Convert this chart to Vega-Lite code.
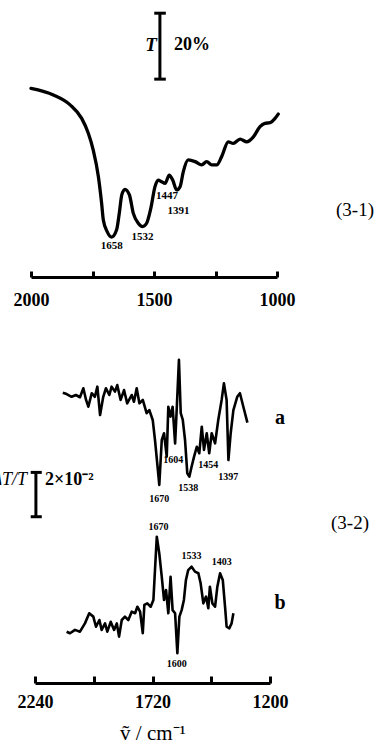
{
  "$schema": "https://vega.github.io/schema/vega-lite/v6.json",
  "width": 381,
  "height": 753,
  "autosize": {"type": "none"},
  "padding": 0,
  "background": "white",
  "config": {"view": {"stroke": null}, "font": "Liberation Serif"},
  "datasets": {
    "top": [
      {"w":2000,"v":57.2},{"w":1909,"v":55.2},{"w":1841,"v":52.2},{"w":1794,"v":48.1},{"w":1767,"v":43.6},
      {"w":1747,"v":38.5},{"w":1726,"v":30.4},{"w":1713,"v":22.4},{"w":1706,"v":17.3},{"w":1690,"v":13.7},
      {"w":1672,"v":12.1},{"w":1652,"v":14.3},{"w":1641,"v":19.4},{"w":1631,"v":24.9},{"w":1618,"v":26.6},
      {"w":1600,"v":24.9},{"w":1584,"v":19.3},{"w":1564,"v":16.3},{"w":1546,"v":15.3},{"w":1530,"v":16.3},
      {"w":1513,"v":20.8},{"w":1496,"v":27.4},{"w":1483,"v":29.4},{"w":1469,"v":28.9},{"w":1455,"v":28.4},
      {"w":1438,"v":30.9},{"w":1424,"v":29.4},{"w":1408,"v":26.4},{"w":1394,"v":27.4},{"w":1381,"v":31.9},
      {"w":1361,"v":35.5},{"w":1333,"v":35.0},{"w":1306,"v":34.0},{"w":1286,"v":35.0},{"w":1265,"v":34.0},
      {"w":1245,"v":34.0},{"w":1225,"v":36.5},{"w":1198,"v":41.0},{"w":1178,"v":40.5},{"w":1150,"v":41.8},
      {"w":1123,"v":41.0},{"w":1096,"v":42.5},{"w":1069,"v":45.6},{"w":1049,"v":46.6},{"w":1028,"v":46.8},
      {"w":1008,"v":48.1},{"w":995,"v":49.4}
    ],
    "bottom": [
      {"s":"a","w":2117,"v":129.0},{"s":"a","w":2100,"v":128.4},{"s":"a","w":2078,"v":127.2},{"s":"a","w":2059,"v":128.0},
      {"s":"a","w":2041,"v":127.0},{"s":"a","w":2026,"v":131.0},{"s":"a","w":2014,"v":125.8},{"s":"a","w":2004,"v":122.8},
      {"s":"a","w":1989,"v":128.8},{"s":"a","w":1975,"v":127.2},{"s":"a","w":1964,"v":131.7},{"s":"a","w":1952,"v":119.1},
      {"s":"a","w":1938,"v":127.2},{"s":"a","w":1926,"v":131.0},{"s":"a","w":1911,"v":128.0},{"s":"a","w":1901,"v":131.7},
      {"s":"a","w":1886,"v":129.5},{"s":"a","w":1876,"v":132.4},{"s":"a","w":1861,"v":125.8},{"s":"a","w":1846,"v":130.2},
      {"s":"a","w":1832,"v":124.3},{"s":"a","w":1812,"v":128.0},{"s":"a","w":1802,"v":125.0},{"s":"a","w":1790,"v":131.0},
      {"s":"a","w":1778,"v":124.3},{"s":"a","w":1763,"v":125.8},{"s":"a","w":1746,"v":119.9},{"s":"a","w":1734,"v":121.3},
      {"s":"a","w":1719,"v":116.9},{"s":"a","w":1709,"v":108.0},{"s":"a","w":1699,"v":97.6},{"s":"a","w":1690,"v":88.0},
      {"s":"a","w":1679,"v":108.0},{"s":"a","w":1669,"v":111.0},{"s":"a","w":1657,"v":100.6},{"s":"a","w":1650,"v":122.8},
      {"s":"a","w":1640,"v":118.4},{"s":"a","w":1631,"v":122.8},{"s":"a","w":1620,"v":106.5},{"s":"a","w":1613,"v":121.3},
      {"s":"a","w":1603,"v":143.6},{"s":"a","w":1595,"v":119.9},{"s":"a","w":1586,"v":116.9},{"s":"a","w":1576,"v":108.0},
      {"s":"a","w":1566,"v":93.2},{"s":"a","w":1557,"v":91.7},{"s":"a","w":1547,"v":96.1},{"s":"a","w":1536,"v":100.6},
      {"s":"a","w":1524,"v":105.0},{"s":"a","w":1513,"v":102.1},{"s":"a","w":1502,"v":113.9},{"s":"a","w":1492,"v":103.6},
      {"s":"a","w":1480,"v":111.0},{"s":"a","w":1469,"v":102.1},{"s":"a","w":1458,"v":111.0},{"s":"a","w":1443,"v":106.5},
      {"s":"a","w":1429,"v":116.9},{"s":"a","w":1414,"v":125.8},{"s":"a","w":1404,"v":133.2},{"s":"a","w":1392,"v":125.8},
      {"s":"a","w":1384,"v":99.1},{"s":"a","w":1374,"v":111.0},{"s":"a","w":1362,"v":121.3},{"s":"a","w":1345,"v":127.2},
      {"s":"a","w":1333,"v":128.8},{"s":"a","w":1318,"v":122.8},{"s":"a","w":1300,"v":115.7},
      {"s":"b","w":2100,"v":22.8},{"s":"b","w":2085,"v":22.1},{"s":"b","w":2063,"v":23.6},{"s":"b","w":2041,"v":22.8},
      {"s":"b","w":2019,"v":26.5},{"s":"b","w":2000,"v":31.0},{"s":"b","w":1982,"v":29.5},{"s":"b","w":1970,"v":25.0},
      {"s":"b","w":1955,"v":28.0},{"s":"b","w":1945,"v":23.6},{"s":"b","w":1930,"v":26.5},{"s":"b","w":1920,"v":22.8},
      {"s":"b","w":1905,"v":27.2},{"s":"b","w":1890,"v":23.6},{"s":"b","w":1878,"v":26.5},{"s":"b","w":1868,"v":20.6},
      {"s":"b","w":1856,"v":28.0},{"s":"b","w":1842,"v":29.5},{"s":"b","w":1827,"v":28.0},{"s":"b","w":1812,"v":31.7},
      {"s":"b","w":1797,"v":31.0},{"s":"b","w":1787,"v":33.9},{"s":"b","w":1775,"v":31.7},{"s":"b","w":1763,"v":22.1},
      {"s":"b","w":1756,"v":34.7},{"s":"b","w":1743,"v":35.4},{"s":"b","w":1728,"v":33.9},{"s":"b","w":1716,"v":36.9},
      {"s":"b","w":1709,"v":50.2},{"s":"b","w":1701,"v":65.0},{"s":"b","w":1690,"v":57.6},{"s":"b","w":1679,"v":47.2},
      {"s":"b","w":1669,"v":36.9},{"s":"b","w":1660,"v":41.3},{"s":"b","w":1650,"v":31.0},{"s":"b","w":1640,"v":47.2},
      {"s":"b","w":1631,"v":32.4},{"s":"b","w":1620,"v":31.0},{"s":"b","w":1610,"v":13.2},{"s":"b","w":1601,"v":29.5},
      {"s":"b","w":1591,"v":32.4},{"s":"b","w":1581,"v":36.9},{"s":"b","w":1572,"v":45.8},{"s":"b","w":1562,"v":50.2},
      {"s":"b","w":1547,"v":51.7},{"s":"b","w":1532,"v":49.5},{"s":"b","w":1517,"v":48.8},{"s":"b","w":1507,"v":44.3},
      {"s":"b","w":1495,"v":35.4},{"s":"b","w":1483,"v":38.4},{"s":"b","w":1473,"v":33.2},{"s":"b","w":1466,"v":42.8},
      {"s":"b","w":1455,"v":35.4},{"s":"b","w":1443,"v":33.9},{"s":"b","w":1433,"v":42.8},{"s":"b","w":1421,"v":48.8},
      {"s":"b","w":1409,"v":45.8},{"s":"b","w":1399,"v":33.9},{"s":"b","w":1392,"v":25.0},{"s":"b","w":1380,"v":24.3},
      {"s":"b","w":1370,"v":26.5},{"s":"b","w":1362,"v":31.0}
    ]
  },
  "layer": [
    {
      "encoding": {
        "x": {"field": "w", "type": "quantitative",
          "scale": {"domain": [2000, 1000], "range": [31, 277], "nice": false, "zero": false},
          "axis": {"orient": "bottom", "offset": -476, "values": [2000, 1750, 1500, 1250, 1000],
            "labelExpr": "datum.value % 500 == 0 ? datum.label : ''", "format": "d", "title": null, "grid": false,
            "domainColor": "black", "domainWidth": 3, "tickColor": "black", "tickWidth": 3, "tickSize": -6,
            "labelPadding": 20, "labelFont": "Liberation Serif", "labelFontSize": 18, "labelFontWeight": "bold",
            "labelColor": "black", "labelFlush": false, "labelOverlap": false}},
        "y": {"field": "v", "type": "quantitative",
          "scale": {"domain": [0, 84], "range": [277, 0], "nice": false, "zero": false}, "axis": null}
      },
      "layer": [
        {"data": {"name": "top"}, "mark": {"type": "line", "color": "black", "strokeWidth": 3.3, "interpolate": "monotone", "strokeJoin": "round", "strokeCap": "round"}},
        {"data": {"values": [{"w":1672,"v":9.4,"t":"1658"},{"w":1547,"v":12.1,"t":"1532"},{"w":1447,"v":24.6,"t":"1447"},{"w":1400,"v":20.0,"t":"1391"}]},
          "mark": {"type": "text", "font": "Liberation Serif", "fontSize": 11, "fontWeight": "bold", "color": "black", "align": "center", "baseline": "middle"},
          "encoding": {"text": {"field": "t"}}},
        {"data": {"values": [{"w":1476,"v":60,"v2":80}]}, "mark": {"type": "rule", "color": "black", "strokeWidth": 3}, "encoding": {"y2": {"field": "v2"}}},
        {"data": {"values": [{"w":1499,"w2":1452,"v":60},{"w":1499,"w2":1452,"v":80}]}, "mark": {"type": "rule", "color": "black", "strokeWidth": 3}, "encoding": {"x2": {"field": "w2"}}},
        {"data": {"values": [{"w":1512,"v":70.3,"t":"T"}]},
          "mark": {"type": "text", "font": "Liberation Serif", "fontSize": 19, "fontStyle": "italic", "fontWeight": "bold", "color": "black", "align": "center", "baseline": "middle"},
          "encoding": {"text": {"field": "t"}}},
        {"data": {"values": [{"w":1346,"v":70.3,"t":"20%"}]},
          "mark": {"type": "text", "font": "Liberation Serif", "fontSize": 18, "fontWeight": "bold", "color": "black", "align": "center", "baseline": "middle"},
          "encoding": {"text": {"field": "t"}}},
        {"data": {"values": [{"w":683,"v":20.3,"t":"(3-1)"}]},
          "mark": {"type": "text", "font": "Liberation Serif", "fontSize": 19, "color": "black", "align": "center", "baseline": "middle"},
          "encoding": {"text": {"field": "t"}}}
      ]
    },
    {
      "encoding": {
        "x": {"field": "w", "type": "quantitative",
          "scale": {"domain": [2240, 1200], "range": [35, 270], "nice": false, "zero": false},
          "axis": {"orient": "bottom", "offset": -70, "values": [2240, 1980, 1720, 1460, 1200],
            "labelExpr": "(datum.value == 1980 || datum.value == 1460) ? '' : datum.label", "format": "d",
            "title": "ṽ  /  cm⁻¹", "titleFont": "Liberation Serif", "titleFontSize": 21, "titleFontWeight": "normal",
            "titleColor": "black", "titlePadding": 11, "grid": false,
            "domainColor": "black", "domainWidth": 3, "tickColor": "black", "tickWidth": 3, "tickSize": -7,
            "labelPadding": 17, "labelFont": "Liberation Serif", "labelFontSize": 18, "labelFontWeight": "bold",
            "labelColor": "black", "labelFlush": false, "labelOverlap": false}},
        "y": {"field": "v", "type": "quantitative",
          "scale": {"domain": [0, 150], "range": [683, 345.5], "nice": false, "zero": false}, "axis": null}
      },
      "layer": [
        {"data": {"name": "bottom"}, "mark": {"type": "line", "color": "black", "strokeWidth": 2.6, "strokeJoin": "round"},
          "encoding": {"detail": {"field": "s"}}},
        {"data": {"values": [{"w":1690,"v":81.8,"t":"1670"},{"w":1628,"v":99.1,"t":"1604"},{"w":1562,"v":86.5,"t":"1538"},{"w":1473,"v":96.9,"t":"1454"},{"w":1385,"v":91.7,"t":"1397"},
                              {"w":1694,"v":69.5,"t":"1670"},{"w":1547,"v":56.4,"t":"1533"},{"w":1414,"v":53.9,"t":"1403"},{"w":1613,"v":8.4,"t":"1600"}]},
          "mark": {"type": "text", "font": "Liberation Serif", "fontSize": 10, "fontWeight": "bold", "color": "black", "align": "center", "baseline": "middle"},
          "encoding": {"text": {"field": "t"}}},
        {"data": {"values": [{"w":2236,"v":73.9,"v2":93.6}]}, "mark": {"type": "rule", "color": "black", "strokeWidth": 3}, "encoding": {"y2": {"field": "v2"}}},
        {"data": {"values": [{"w":2259,"w2":2210,"v":73.9},{"w":2259,"w2":2210,"v":93.6}]}, "mark": {"type": "rule", "color": "black", "strokeWidth": 3}, "encoding": {"x2": {"field": "w2"}}},
        {"data": {"values": [{"w":2275,"v":90.2,"t":"ΔT/T"}]},
          "mark": {"type": "text", "font": "Liberation Serif", "fontSize": 18, "fontStyle": "italic", "color": "black", "align": "right", "baseline": "middle"},
          "encoding": {"text": {"field": "t"}}},
        {"data": {"values": [{"w":2196,"v":90.2,"t":"2×10⁻²"}]},
          "mark": {"type": "text", "font": "Liberation Serif", "fontSize": 18, "fontWeight": "bold", "color": "black", "align": "left", "baseline": "middle"},
          "encoding": {"text": {"field": "t"}}},
        {"data": {"values": [{"w":1156,"v":117.6,"t":"a"},{"w":1156,"v":35.4,"t":"b"}]},
          "mark": {"type": "text", "font": "Liberation Serif", "fontSize": 20, "fontWeight": "bold", "color": "black", "align": "center", "baseline": "middle"},
          "encoding": {"text": {"field": "t"}}},
        {"data": {"values": [{"w":846,"v":71.0,"t":"(3-2)"}]},
          "mark": {"type": "text", "font": "Liberation Serif", "fontSize": 19, "color": "black", "align": "center", "baseline": "middle"},
          "encoding": {"text": {"field": "t"}}}
      ]
    }
  ],
  "resolve": {"scale": {"x": "independent", "y": "independent"}, "axis": {"x": "independent", "y": "independent"}}
}
